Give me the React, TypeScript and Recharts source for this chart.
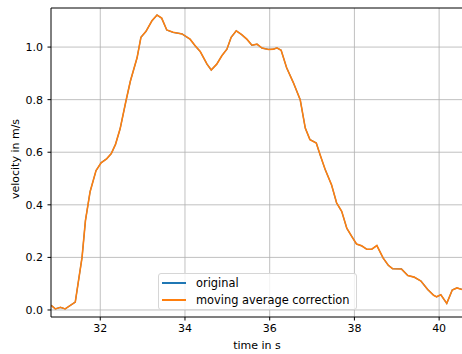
import {
  Line,
  LineChart,
  CartesianGrid,
  ReferenceLine,
  XAxis,
  YAxis,
} from "recharts";

// time stamps (s) and velocity samples (m/s)
const times = [
  30.84, 30.94, 31.06, 31.17, 31.41, 31.57, 31.65, 31.76, 31.9, 32.02,
  32.15, 32.26, 32.36, 32.47, 32.6, 32.71, 32.87, 32.96, 33.08, 33.22,
  33.34, 33.45, 33.57, 33.72, 33.93, 34.12, 34.24, 34.36, 34.52, 34.62,
  34.75, 34.87, 34.99, 35.09, 35.21, 35.34, 35.46, 35.58, 35.7, 35.82,
  35.97, 36.09, 36.17, 36.27, 36.4, 36.56, 36.72, 36.84, 36.95, 37.1,
  37.19, 37.31, 37.46, 37.58, 37.7, 37.82, 37.94, 38.05, 38.17, 38.29,
  38.41, 38.53, 38.68, 38.8, 38.9, 39.11, 39.26, 39.41, 39.57, 39.73,
  39.87, 39.94, 40.04, 40.18, 40.31, 40.42, 40.54,
];

const originalVelocity = [
  0.018, 0.004, 0.01, 0.004, 0.03, 0.2, 0.34, 0.45, 0.53, 0.56,
  0.575, 0.595, 0.63, 0.69, 0.79, 0.87, 0.96, 1.037, 1.06, 1.1,
  1.122, 1.11, 1.065, 1.056, 1.05, 1.03, 1.005, 0.983, 0.935, 0.913,
  0.935, 0.967, 0.992, 1.037, 1.062, 1.047, 1.03, 1.007, 1.011, 0.996,
  0.991, 0.992, 0.997, 0.988, 0.921, 0.864, 0.8, 0.692, 0.648, 0.635,
  0.59, 0.534, 0.476, 0.407, 0.375, 0.311, 0.279, 0.251, 0.244, 0.231,
  0.231, 0.245, 0.197, 0.17, 0.157, 0.156, 0.131, 0.125, 0.11, 0.078,
  0.056, 0.05, 0.058, 0.025, 0.076, 0.084, 0.078,
];

const correctedVelocity = [
  0.018, 0.004, 0.01, 0.004, 0.03, 0.2, 0.34, 0.45, 0.53, 0.56,
  0.575, 0.595, 0.63, 0.69, 0.79, 0.87, 0.96, 1.037, 1.06, 1.1,
  1.122, 1.11, 1.065, 1.056, 1.05, 1.03, 1.005, 0.983, 0.935, 0.913,
  0.935, 0.967, 0.992, 1.037, 1.062, 1.047, 1.03, 1.007, 1.011, 0.996,
  0.991, 0.992, 0.997, 0.988, 0.921, 0.864, 0.8, 0.692, 0.648, 0.635,
  0.59, 0.534, 0.476, 0.407, 0.375, 0.311, 0.279, 0.251, 0.244, 0.231,
  0.231, 0.245, 0.197, 0.17, 0.157, 0.156, 0.131, 0.125, 0.11, 0.078,
  0.056, 0.05, 0.058, 0.025, 0.076, 0.084, 0.078,
];

const xTicks = [32, 34, 36, 38, 40];
const yTicks = [0, 0.2, 0.4, 0.6, 0.8, 1.0];

const seriesNames = ["original", "moving average correction"];
const seriesColors = ["#1f77b4", "#ff7f0e"];

const X_DOMAIN: [number, number] = [30.837, 40.54];
const Y_DOMAIN: [number, number] = [-0.0267, 1.1486];

const FONT = "'DejaVu Sans', sans-serif";
const FS = 11;

const data = times.map((t, i) => ({
  t,
  original: originalVelocity[i],
  corrected: correctedVelocity[i],
}));

// matplotlib-style legend box, laid over the plot
function LegendBox() {
  return (
    <div
      style={{
        position: "absolute",
        left: 158,
        top: 273,
        width: 199,
        height: 37,
        boxSizing: "border-box",
        background: "rgba(255,255,255,0.8)",
        border: "1px solid #d6d6d6",
        borderRadius: 3,
        fontFamily: FONT,
        fontSize: FS,
        color: "#000",
      }}
    >
      {seriesNames.map((name, i) => (
        <div key={name}>
          <div
            style={{
              position: "absolute",
              left: 3,
              top: 7.5 + i * 17,
              width: 24,
              height: 2,
              background: seriesColors[i],
            }}
          />
          <span
            style={{
              position: "absolute",
              left: 37,
              top: 0.5 + i * 17,
              lineHeight: "16px",
              whiteSpace: "nowrap",
              fontSize: 11.4,
            }}
          >
            {name}
          </span>
        </div>
      ))}
    </div>
  );
}

export default function App() {
  return (
    <div style={{ position: "absolute", left: 0, top: 0, width: 462, height: 354, background: "#fff" }}>
      <LineChart width={462} height={354} data={data} margin={{ top: 8, right: 0, bottom: 0, left: 0 }}>
        <CartesianGrid stroke="#b0b0b0" strokeWidth={0.8} horizontalValues={yTicks} verticalValues={xTicks} />
        <XAxis
          dataKey="t"
          type="number"
          domain={X_DOMAIN}
          allowDataOverflow
          ticks={xTicks}
          tickFormatter={(v: number) => String(v)}
          height={37}
          tickSize={3.5}
          tickMargin={3.5}
          stroke="#000"
          tick={{ fill: "#000", fontSize: FS, fontFamily: FONT }}
          label={{
            content: () => (
              <text x={257} y={349} textAnchor="middle" fontSize={FS} fontFamily={FONT} fill="#000">
                time in s
              </text>
            ),
          }}
        />
        <YAxis
          type="number"
          domain={Y_DOMAIN}
          allowDataOverflow
          ticks={yTicks}
          tickFormatter={(v: number) => v.toFixed(1)}
          width={51}
          tickSize={3.5}
          tickMargin={4.5}
          stroke="#000"
          tick={{ fill: "#000", fontSize: FS, fontFamily: FONT }}
          label={{
            content: () => (
              <text
                x={19}
                y={159}
                textAnchor="middle"
                fontSize={FS}
                fontFamily={FONT}
                fill="#000"
                transform="rotate(-90 19 159)"
              >
                velocity in m/s
              </text>
            ),
          }}
        />
        <ReferenceLine y={Y_DOMAIN[1]} stroke="#000" strokeWidth={1} />
        <Line
          dataKey="original"
          name={seriesNames[0]}
          stroke={seriesColors[0]}
          strokeWidth={1.2}
          dot={false}
          type="linear"
          isAnimationActive={false}
        />
        <Line
          dataKey="corrected"
          name={seriesNames[1]}
          stroke={seriesColors[1]}
          strokeWidth={1.6}
          dot={false}
          type="linear"
          isAnimationActive={false}
        />
      </LineChart>
      <LegendBox />
    </div>
  );
}
